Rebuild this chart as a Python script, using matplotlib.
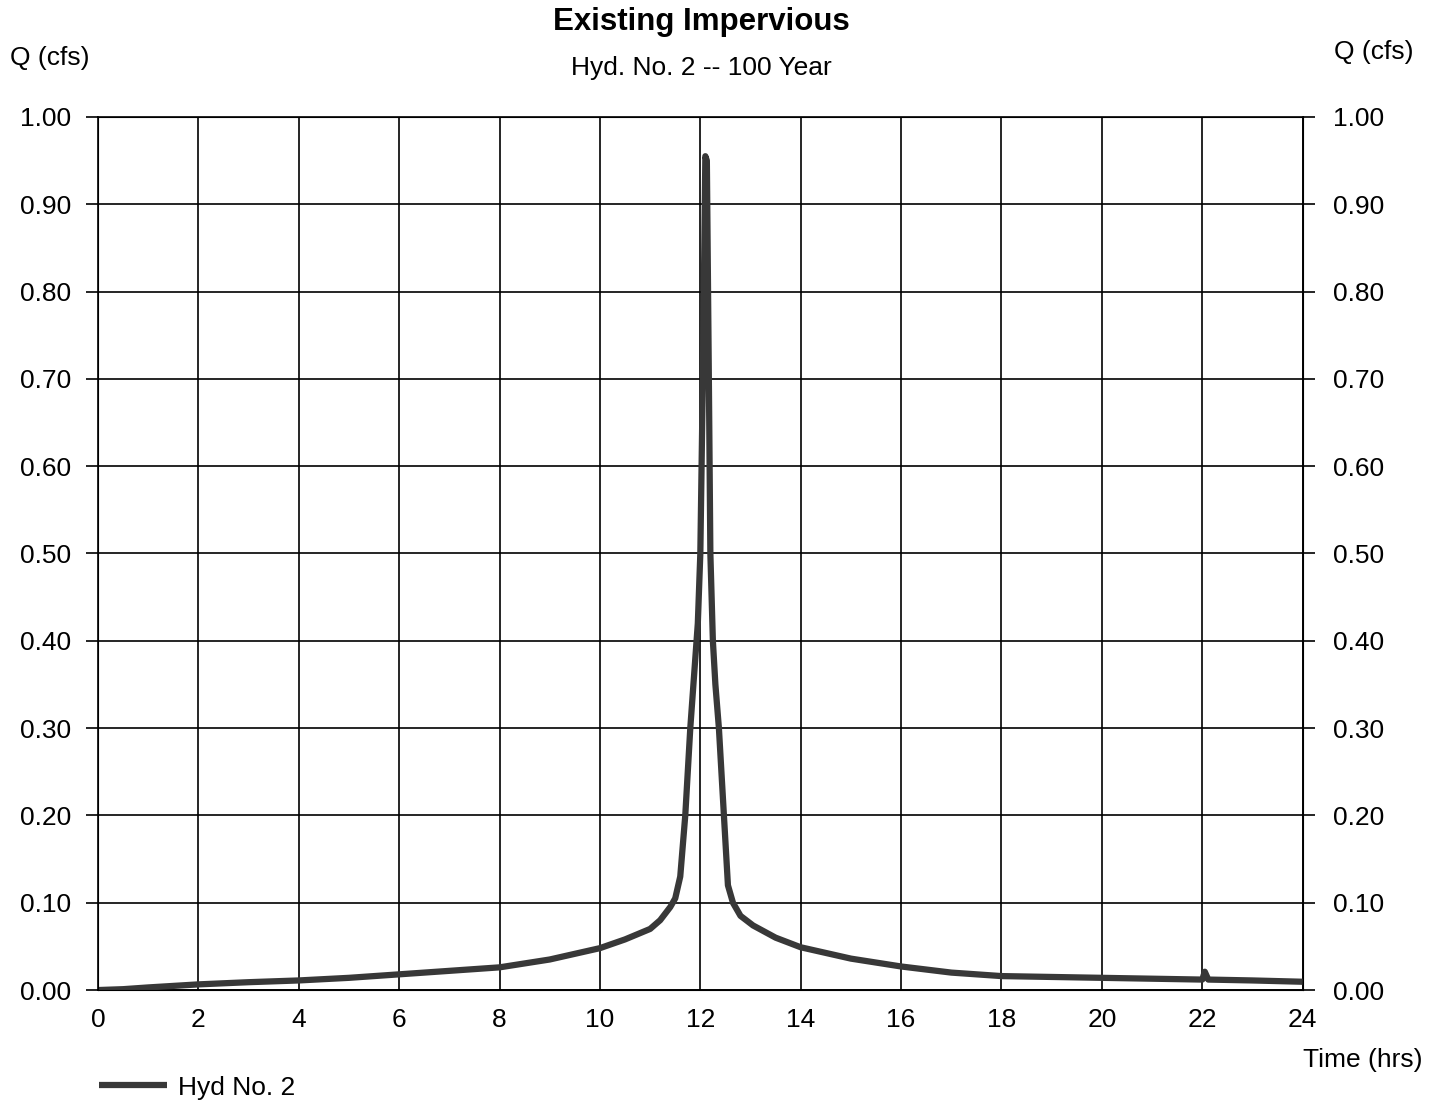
import matplotlib.pyplot as plt
import numpy as np

plt.rcParams['font.family'] = ['Liberation Sans', 'DejaVu Sans']

# hydrograph
time_hrs = [0, 0.5, 1, 2, 3, 4, 5, 6, 7, 8, 9, 10, 10.5, 11, 11.2, 11.4,
            11.5, 11.6, 11.7, 11.8, 11.9, 11.95, 12.0, 12.05, 12.1, 12.13,
            12.17, 12.2, 12.25, 12.3, 12.37, 12.47, 12.55, 12.65, 12.8, 13.05,
            13.5, 14, 15, 16, 17, 18, 19, 20, 21, 22, 22.05, 22.12, 23, 24]
flow_cfs = [0, 0.001, 0.003, 0.0065, 0.009, 0.011, 0.014, 0.018, 0.022, 0.026,
            0.035, 0.048, 0.058, 0.07, 0.08, 0.095, 0.105, 0.13, 0.2, 0.3,
            0.38, 0.42, 0.5, 0.7, 0.955, 0.95, 0.7, 0.5, 0.4, 0.35,
            0.3, 0.2, 0.12, 0.10, 0.085, 0.074, 0.06, 0.049, 0.036, 0.027,
            0.02, 0.016, 0.015, 0.014, 0.013, 0.012, 0.021, 0.012, 0.011, 0.0095]

x_ticks = np.arange(0, 25, 2)
y_ticks = np.arange(0, 1.01, 0.1)

fig = plt.figure(figsize=(14.41, 11.03), dpi=100)
ax = fig.add_axes([0.068, 0.1024, 0.836, 0.7916])

ax.plot(time_hrs, flow_cfs, color='#383838', linewidth=4.5, solid_capstyle='butt',
        label='Hyd No. 2', zorder=3)

ax.set_xlim(0, 24)
ax.set_ylim(0, 1.0)
ax.set_xticks(x_ticks)
ax.set_yticks(y_ticks)
ax.set_yticklabels(['{:.2f}'.format(v) for v in y_ticks])
ax.grid(True, color='black', linewidth=1.2)
ax.tick_params(axis='x', length=0, pad=13, labelsize=19)
ax.tick_params(axis='y', length=8.5, width=1.2, pad=11, labelsize=19, direction='out')
for s in ax.spines.values():
    s.set_linewidth(1.2)

ax2 = ax.twinx()
ax2.set_ylim(0, 1.0)
ax2.set_yticks(y_ticks)
ax2.set_yticklabels(['{:.2f}'.format(v) for v in y_ticks])
ax2.tick_params(axis='y', length=8.5, width=1.2, pad=13, labelsize=19, direction='out')

fig.text(0.487, 0.980, 'Existing Impervious', ha='center', va='center',
         fontsize=22.5, fontweight='bold')
fig.text(0.487, 0.938, 'Hyd. No. 2 -- 100 Year', ha='center', va='center', fontsize=19)
fig.text(0.007, 0.947, 'Q (cfs)', ha='left', va='center', fontsize=19)
fig.text(0.981, 0.953, 'Q (cfs)', ha='right', va='center', fontsize=19)
fig.text(0.987, 0.039, 'Time (hrs)', ha='right', va='center', fontsize=19)

fig.legend(loc='center left', bbox_to_anchor=(0.052, 0.014), frameon=False,
           fontsize=19, handlelength=2.6, handletextpad=0.4)

fig.savefig('out.png', dpi=100)
